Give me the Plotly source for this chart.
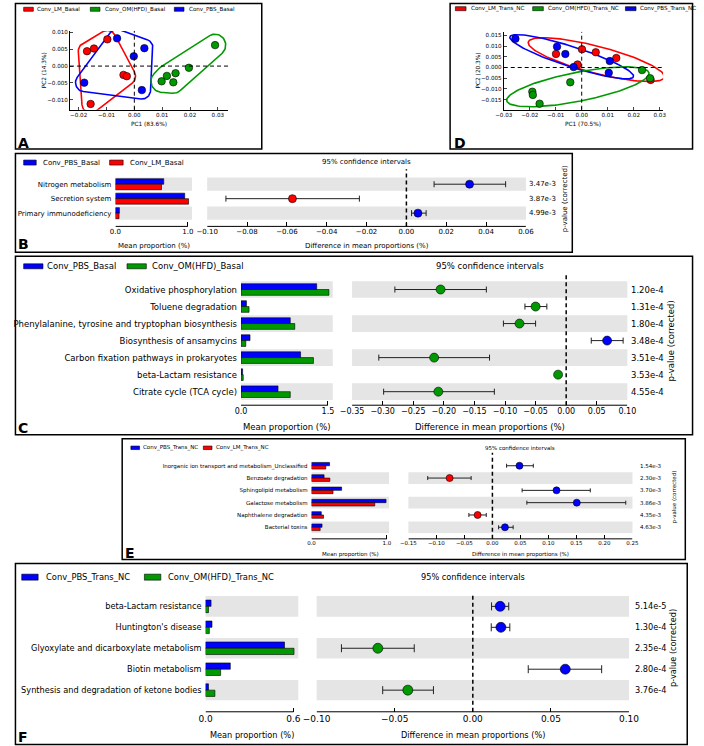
import numpy as np
import plotly.graph_objects as go

W, H = 704, 746
def X(px): return px / W
def Y(py): return 1 - py / H

BLUE = '#0000ff'; RED = '#ff0000'; GREEN = '#009a00'
GRAY = '#e5e5e5'
FONT = 'DejaVu Sans'

# ---------------- Panel A data (PCA basal) ----------------
a_lm_pc1 = [-0.0170, -0.0145, -0.0097, -0.0039, -0.0027, -0.0157]
a_lm_pc2 = [0.0044, 0.0052, 0.0079, -0.0026, -0.0030, -0.0112]
a_om_pc1 = [0.0098, 0.0117, 0.0140, 0.0148, 0.0196, 0.0290]
a_om_pc2 = [-0.0045, -0.0029, -0.0048, -0.0021, -0.0005, 0.0062]
a_pbs_pc1 = [-0.0062, -0.0002, 0.0036, -0.0180, 0.0027]
a_pbs_pc2 = [0.0082, 0.0029, 0.0053, -0.0049, -0.0071]

# ---------------- Panel D data (PCA Trans_NC) ----------------
d_lm_pc1 = [-0.0099, 0.0001, 0.0054, 0.0133, -0.0016, 0.0265]
d_lm_pc2 = [0.0063, 0.0085, 0.0071, 0.0044, 0.0014, -0.0058]
d_om_pc1 = [0.0232, 0.0263, -0.0044, -0.0190, -0.0188, -0.0162]
d_om_pc2 = [-0.0012, -0.0050, -0.0069, -0.0113, -0.0128, -0.0169]
d_pbs_pc1 = [-0.0255, -0.0095, -0.0063, -0.0031, 0.0108, 0.0104]
d_pbs_pc2 = [0.0134, 0.0097, 0.0063, 0.0002, 0.0030, -0.0025]

# ---------------- Panel B ----------------
b_cats = ['Nitrogen metabolism', 'Secretion system', 'Primary immunodeficiency']
b_pbs = [0.667, 0.956, 0.055]
b_lm = [0.636, 1.009, 0.050]
b_diff = [0.0317, -0.0572, 0.0058]
b_lo = [0.0139, -0.0906, 0.0026]
b_hi = [0.0498, -0.0236, 0.0099]
b_p = ['3.47e-3', '3.87e-3', '4.99e-3']

# ---------------- Panel C ----------------
c_cats = ['Oxidative phosphorylation', 'Toluene degradation',
          'Phenylalanine, tyrosine and tryptophan biosynthesis', 'Biosynthesis of ansamycins',
          'Carbon fixation pathways in prokaryotes', 'beta-Lactam resistance',
          'Citrate cycle (TCA cycle)']
c_pbs = [1.306, 0.094, 0.850, 0.156, 1.028, 0.028, 0.639]
c_om = [1.517, 0.139, 0.928, 0.083, 1.250, 0.039, 0.850]
c_diff = [-0.2053, -0.0500, -0.0763, 0.0669, -0.2158, -0.0132, -0.2090]
c_lo = [-0.2800, -0.0674, -0.1026, 0.0410, -0.3063, -0.0160, -0.2984]
c_hi = [-0.1305, -0.0316, -0.0500, 0.0931, -0.1253, -0.0104, -0.1174]
c_p = ['1.20e-4', '1.31e-4', '1.80e-4', '3.48e-4', '3.51e-4', '3.53e-4', '4.55e-4']

# ---------------- Panel E ----------------
e_cats = ['Inorganic ion transport and metabolism_Unclassified', 'Benzoate degradation',
          'Sphingolipid metabolism', 'Galactose metabolism', 'Naphthalene degradation',
          'Bacterial toxins']
e_pbs = [0.24, 0.167, 0.40, 0.99, 0.13, 0.14]
e_lm = [0.19, 0.244, 0.286, 0.84, 0.16, 0.115]
e_diff = [0.0483, -0.0764, 0.1144, 0.1506, -0.0264, 0.0224]
e_lo = [0.0253, -0.1155, 0.0530, 0.0615, -0.0420, 0.0110]
e_hi = [0.0730, -0.0380, 0.1747, 0.2380, -0.0110, 0.0370]
e_p = ['1.54e-3', '2.30e-3', '3.70e-3', '3.86e-3', '4.35e-3', '4.63e-3']

# ---------------- Panel F ----------------
f_cats = ['beta-Lactam resistance', "Huntington's disease",
          'Glyoxylate and dicarboxylate metabolism', 'Biotin metabolism',
          'Synthesis and degradation of ketone bodies']
f_pbs = [0.0376, 0.044, 0.539, 0.169, 0.020]
f_om = [0.020, 0.026, 0.604, 0.103, 0.064]
f_diff = [0.0175, 0.0180, -0.0608, 0.0592, -0.0416]
f_lo = [0.0120, 0.0118, -0.0841, 0.0355, -0.0577]
f_hi = [0.0230, 0.0237, -0.0375, 0.0825, -0.0252]
f_p = ['5.14e-5', '1.30e-4', '2.35e-4', '2.80e-4', '3.76e-4']

fig = go.Figure()
layout = {}
shapes = []
annos = []

def ann(px, py, text, size, xanchor='center', yanchor='middle', angle=0, bold=False, xref='paper', yref='paper', yv=None):
    annos.append(dict(x=X(px) if xref == 'paper' else px,
                      y=Y(py) if yv is None else yv,
                      xref=xref, yref=yref, text=('<b>%s</b>' % text) if bold else text,
                      showarrow=False, xanchor=xanchor, yanchor=yanchor, textangle=angle,
                      font=dict(size=size, family=FONT, color='black'), borderpad=0))

def box(x0, y0, x1, y1):
    shapes.append(dict(type='rect', xref='paper', yref='paper', x0=X(x0), x1=X(x1), y0=Y(y1), y1=Y(y0),
                       line=dict(color='black', width=1.5), fillcolor='rgba(0,0,0,0)'))

def legend_item(sx, cy, w, h, color, text, fs, tx):
    shapes.append(dict(type='rect', xref='paper', yref='paper', x0=X(sx), x1=X(sx + w),
                       y0=Y(cy + h / 2), y1=Y(cy - h / 2), fillcolor=color,
                       line=dict(color='black', width=0.6)))
    ann(tx, cy, text, fs, xanchor='left')

def akey(kind, n):
    return kind + ('' if n == 1 else str(n))

def aref(kind, n):
    return kind + ('' if n == 1 else str(n))

# ---------- hull / ellipse helpers ----------
def convex_hull(pts):
    pts = sorted(set(pts))
    def cross(o, a, b):
        return (a[0]-o[0])*(b[1]-o[1]) - (a[1]-o[1])*(b[0]-o[0])
    lower = []
    for p in pts:
        while len(lower) >= 2 and cross(lower[-2], lower[-1], p) <= 0:
            lower.pop()
        lower.append(p)
    upper = []
    for p in reversed(pts):
        while len(upper) >= 2 and cross(upper[-2], upper[-1], p) <= 0:
            upper.pop()
        upper.append(p)
    return lower[:-1] + upper[:-1]

def rounded_hull(xs, ys, sx, sy, r):
    th = np.linspace(0, 2*np.pi, 60, endpoint=False)
    pts = []
    for x, y in zip(xs, ys):
        for t in th:
            pts.append((round(x*sx + r*np.cos(t), 4), round(y*sy + r*np.sin(t), 4)))
    hull = convex_hull(pts)
    hull.append(hull[0])
    return [p[0]/sx for p in hull], [p[1]/sy for p in hull]

def cov_ellipse(xs, ys, sx, sy, kmaj, kmin):
    px = np.array(xs) * sx; py = np.array(ys) * sy
    c = np.cov(px, py)
    vals, vecs = np.linalg.eigh(c)   # ascending: minor, major
    t = np.linspace(0, 2*np.pi, 140)
    circ = np.stack([np.cos(t), np.sin(t)])
    scale = np.array([np.sqrt(vals[0]) * kmin, np.sqrt(vals[1]) * kmaj])
    pts = vecs @ (scale[:, None] * circ)
    return (px.mean() + pts[0]) / sx, (py.mean() + pts[1]) / sy

# ---------- PCA panels ----------
def pca_panel(n, xdom, ydom, xr, yr, xt, yt, groups, hull_kind, xlabel, ylabel, title_px):
    xa, ya = aref('x', n), aref('y', n)
    layout[akey('xaxis', n)] = dict(domain=[X(xdom[0]), X(xdom[1])], range=xr, anchor=ya,
                                    showline=True, linecolor='black', linewidth=1, mirror=False,
                                    ticks='inside', ticklen=3, tickwidth=0.8, tickvals=xt,
                                    tickformat='.2f', tickfont=dict(size=5.6), showgrid=False, zeroline=False)
    layout[akey('yaxis', n)] = dict(domain=[Y(ydom[1]), Y(ydom[0])], range=yr, anchor=xa,
                                    showline=True, linecolor='black', linewidth=1, mirror=False,
                                    ticks='inside', ticklen=3, tickwidth=0.8, tickvals=yt,
                                    tickformat='.3f', tickfont=dict(size=5.6), showgrid=False, zeroline=False)
    sx = (xdom[1]-xdom[0])/(xr[1]-xr[0]); sy = (ydom[1]-ydom[0])/(yr[1]-yr[0])
    for xs, ys, col, kk in groups:
        if hull_kind == 'hull':
            hx, hy = rounded_hull(xs, ys, sx, sy, kk)
        else:
            hx, hy = cov_ellipse(xs, ys, sx, sy, kk[0], kk[1])
        fig.add_trace(go.Scatter(x=hx, y=hy, mode='lines', line=dict(color=col, width=1.6),
                                 xaxis=xa, yaxis=ya, hoverinfo='skip'))
    for xs, ys, col, kk in groups:
        fig.add_trace(go.Scatter(x=xs, y=ys, mode='markers', xaxis=xa, yaxis=ya, cliponaxis=False,
                                 marker=dict(color=col, size=7.5, line=dict(color='black', width=0.6))))
    shapes.append(dict(type='line', xref=xa, yref=ya + ' domain', x0=0, x1=0, y0=0, y1=1,
                       line=dict(color='black', width=1, dash='4px,3px')))
    shapes.append(dict(type='line', xref=xa + ' domain', yref=ya, x0=0, x1=1, y0=0, y1=0,
                       line=dict(color='black', width=1, dash='4px,3px')))
    ann((xdom[0]+xdom[1])/2, title_px, xlabel, 5.8)
    ann(xdom[0]-27, (ydom[0]+ydom[1])/2, ylabel, 5.8, angle=-90)

pca_panel(1, (58, 222), (29, 108), [-0.0231, 0.0338], [-0.0129, 0.0104],
          [-0.02, -0.01, 0.0, 0.01, 0.02, 0.03], [-0.010, -0.005, 0.0, 0.005, 0.010],
          [(a_lm_pc1, a_lm_pc2, RED, 9), (a_pbs_pc1, a_pbs_pc2, BLUE, 9), (a_om_pc1, a_om_pc2, GREEN, 11)],
          'hull', 'PC1 (83.6%)', 'PC2 (14.3%)', 122.5)
pca_panel(2, (507, 672), (30, 108), [-0.0300, 0.0313], [-0.0197, 0.0166],
          [-0.03, -0.02, -0.01, 0.0, 0.01, 0.02, 0.03], [-0.015, -0.010, -0.005, 0.0, 0.005, 0.010, 0.015],
          [(d_lm_pc1, d_lm_pc2, RED, (2.05, 1.8)), (d_pbs_pc1, d_pbs_pc2, BLUE, (1.75, 1.65)),
           (d_om_pc1, d_om_pc2, GREEN, (1.3, 2.4))],
          'ellipse', 'PC1 (70.5%)', 'PC2 (20.3%)', 122.5)

legend_item(10, 7.3, 10, 4, RED, 'Conv_LM_Basal', 5.6, 23)
legend_item(79, 7.3, 10, 4, GREEN, 'Conv_OM(HFD)_Basal', 5.6, 93)
legend_item(166, 7.3, 10, 4, BLUE, 'Conv_PBS_Basal', 5.6, 180)
legend_item(457, 6.7, 11, 4, RED, 'Conv_LM_Trans_NC', 5.6, 472)
legend_item(537, 6.7, 11, 4, GREEN, 'Conv_OM(HFD)_Trans_NC', 5.6, 552)
legend_item(633, 6.7, 11, 4, BLUE, 'Conv_PBS_Trans_NC', 5.6, 647)

# ---------- STAMP panels ----------
def stamp_panel(nb, nc, cats, g1, g2, col1, col2, diff, lo, hi, pv, r0, sp, axis_py,
                bar_dom, bar_max, bar_ticks, ci_dom, ci_range, ci_ticks, fs, tfs,
                band_h, bar_w, msize, cap, p_x, pl_x, ci_title_py, dash_top, tick_py, title_py):
    n = len(cats)
    rows = list(range(n))
    ydom = [Y(r0 + (n - 1) * sp + sp / 2), Y(r0 - sp / 2)]
    for k, xd, xrng, tv, fmt in [(nb, bar_dom, [0, bar_max], bar_ticks, '.1f'),
                                 (nc, ci_dom, ci_range, ci_ticks, '.2f')]:
        layout[akey('xaxis', k)] = dict(domain=[X(xd[0]), X(xd[1])], range=xrng, anchor='free',
                                        position=Y(axis_py), showline=False, ticks='inside', ticklen=4,
                                        tickwidth=1, tickcolor='black', tickvals=tv, tickformat=fmt,
                                        tickfont=dict(size=tfs), showgrid=False, zeroline=False)
        layout[akey('yaxis', k)] = dict(domain=ydom, range=[n - 0.5, -0.5], anchor=aref('x', k),
                                        showline=False, showgrid=False, zeroline=False, ticks='',
                                        tickvals=rows, ticktext=cats if k == nb else None,
                                        showticklabels=(k == nb), tickfont=dict(size=fs),
                                        ticklabelstandoff=3)
        for i in rows:
            if (n - 1 - i) % 2 == 0:
                shapes.append(dict(type='rect', xref=aref('x', k) + ' domain', yref=aref('y', k),
                                   x0=0, x1=1, y0=i - band_h / 2, y1=i + band_h / 2,
                                   fillcolor=GRAY, line=dict(width=0), layer='below'))
        shapes.append(dict(type='line', xref=aref('x', k), yref='paper', x0=tv[0], x1=tv[-1],
                           y0=Y(axis_py), y1=Y(axis_py), line=dict(color='black', width=1)))
    xb, yb = aref('x', nb), aref('y', nb)
    fig.add_trace(go.Bar(x=g1, y=rows, orientation='h', width=bar_w, offset=-bar_w, xaxis=xb, yaxis=yb,
                         marker=dict(color=col1, line=dict(color='black', width=0.6))))
    fig.add_trace(go.Bar(x=g2, y=rows, orientation='h', width=bar_w, offset=0, xaxis=xb, yaxis=yb,
                         marker=dict(color=col2, line=dict(color='black', width=0.6))))
    xc, yc = aref('x', nc), aref('y', nc)
    shapes.append(dict(type='line', xref=xc, yref='paper', x0=0, x1=0, y0=Y(axis_py), y1=Y(dash_top),
                       line=dict(color='black', width=1.5, dash='4px,3px')))
    fig.add_trace(go.Scatter(x=diff, y=rows, mode='markers', xaxis=xc, yaxis=yc, cliponaxis=False,
                             marker=dict(color=[col1 if d > 0 else col2 for d in diff], size=msize,
                                         line=dict(color='black', width=0.6)),
                             error_x=dict(type='data', symmetric=False,
                                          array=[h - d for h, d in zip(hi, diff)],
                                          arrayminus=[d - l for d, l in zip(diff, lo)],
                                          color='#222222', thickness=1, width=cap)))
    for i in rows:
        ann(p_x, 0, pv[i], fs, xanchor='left', yref=yc, yv=i)
    ann(pl_x, r0 + (n - 1) * sp / 2, 'p-value (corrected)', fs, angle=-90)
    ann((ci_dom[0] + ci_dom[1]) / 2, ci_title_py, '95% confidence intervals', fs)
    ann((bar_dom[0] + bar_dom[1]) / 2, title_py, 'Mean proportion (%)', fs)
    ann((ci_dom[0] + ci_dom[1]) / 2, title_py, 'Difference in mean proportions (%)', fs)

# B
stamp_panel(3, 4, b_cats, b_pbs, b_lm, BLUE, RED, b_diff, b_lo, b_hi, b_p, 182.7, 14.5, 225,
            (105, 184.3), 1.057, [0, 1.0], (200, 530), [-0.10, 0.06],
            [-0.10, -0.08, -0.06, -0.04, -0.02, 0.0, 0.02, 0.04, 0.06], 7, 7,
            0.92, 0.38, 8, 3, 532, 570, 160.7, 167.7, 233, 244.3)
legend_item(10, 161, 13, 5, BLUE, 'Conv_PBS_Basal', 7, 29)
legend_item(99, 161, 14, 5, RED, 'Conv_LM_Basal', 7, 119)

# C
stamp_panel(5, 6, c_cats, c_pbs, c_om, BLUE, GREEN, c_diff, c_lo, c_hi, c_p, 288.3, 17.07, 404.3,
            (235, 330), 1.583, [0, 1.5], (350, 635), [-0.35, 0.10],
            [-0.35, -0.30, -0.25, -0.20, -0.15, -0.10, -0.05, 0.0, 0.05, 0.10], 8.5, 8,
            0.98, 0.34, 9, 3, 638, 680, 265, 273, 414, 426)
legend_item(10, 265, 20, 5, BLUE, 'Conv_PBS_Basal', 8.5, 33)
legend_item(117, 265, 20, 5, GREEN, 'Conv_OM(HFD)_Basal', 8.5, 141.7)

# E
stamp_panel(7, 8, e_cats, e_pbs, e_lm, BLUE, RED, e_diff, e_lo, e_hi, e_p, 465, 12.34, 538.3,
            (308, 388.3), 1.03, [0, 1.0], (408.3, 640.3), [-0.15, 0.25],
            [-0.15, -0.10, -0.05, 0.0, 0.05, 0.10, 0.15, 0.20, 0.25], 5.5, 5.5,
            0.95, 0.27, 7, 2, 647, 684, 447.3, 452, 545, 554)
legend_item(121, 447, 9, 3.5, BLUE, 'Conv_PBS_Trans_NC', 5.5, 133)
legend_item(196, 447, 9, 3.5, RED, 'Conv_LM_Trans_NC', 5.5, 208)

# F
stamp_panel(9, 10, f_cats, f_pbs, f_om, BLUE, GREEN, f_diff, f_lo, f_hi, f_p, 606, 21, 711.7,
            (198.3, 294.3), 0.633, [0, 0.6], (313.3, 636.7), [-0.10, 0.10],
            [-0.10, -0.05, 0.0, 0.05, 0.10], 8.2, 9,
            0.98, 0.30, 10, 4, 642, 683, 576.7, 593, 720.7, 735)
legend_item(8, 576.7, 17, 6, BLUE, 'Conv_PBS_Trans_NC', 8.4, 32)
legend_item(135, 576.7, 17, 6, GREEN, 'Conv_OM(HFD)_Trans_NC', 8.4, 158)

# panel boxes and letters
box(1.5, 1.5, 256.5, 147.5)
box(451.5, 1.5, 702.5, 147.5)
box(1.5, 152, 578, 251)
box(1.5, 255, 702.5, 434)
box(112, 438, 695, 559)
box(1.5, 563, 697, 744.5)
ann(3, 141, 'A', 14, xanchor='left', bold=True)
ann(454, 141, 'D', 14, xanchor='left', bold=True)
ann(3, 243, 'B', 14, xanchor='left', bold=True)
ann(3, 427, 'C', 14, xanchor='left', bold=True)
ann(114, 552, 'E', 14, xanchor='left', bold=True)
ann(3, 737, 'F', 14, xanchor='left', bold=True)

fig.update_layout(width=W, height=H, margin=dict(l=0, r=0, t=0, b=0), showlegend=False,
                  paper_bgcolor='white', plot_bgcolor='rgba(0,0,0,0)', barmode='overlay',
                  font=dict(family=FONT, color='black'), shapes=shapes, annotations=annos, **layout)
fig.write_html('out.html', config={'displayModeBar': False},
               post_script="document.body.style.margin='0';document.body.style.overflow='hidden';")
